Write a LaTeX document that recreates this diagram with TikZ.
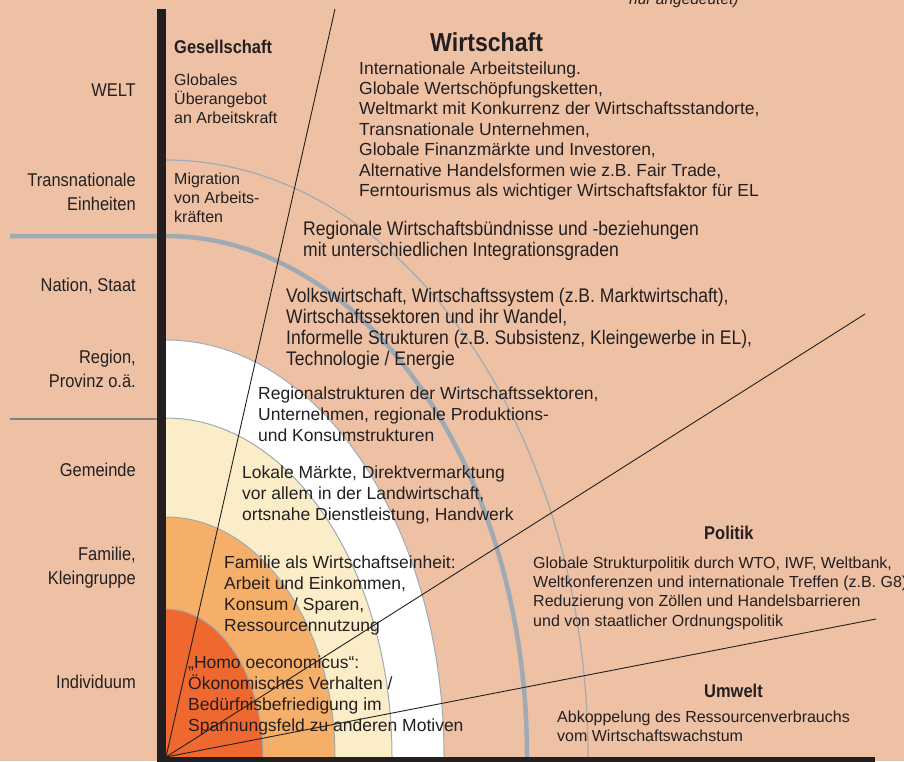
\documentclass[tikz,border=0pt]{standalone}
\usepackage{fontspec}
\newfontfamily\regfont{Liberation Sans}
\newfontfamily\narrowfont[FakeStretch=0.89]{Liberation Sans}
\usetikzlibrary{positioning}

\definecolor{bgpeach}{RGB}{238,193,164}
\definecolor{ringred}{RGB}{238,104,48}
\definecolor{ringorange}{RGB}{245,175,105}
\definecolor{ringyellow}{RGB}{251,237,200}
\definecolor{ringedge}{RGB}{160,170,178}
\definecolor{txtcol}{RGB}{35,31,32}

% multi-line nodes sit on the baseline of their last line
\tikzset{
  axisline/.style={line width=9pt,color=txtcol},
  ray/.style={line width=0.9pt,color=txtcol},
  thickring/.style={line width=4.5pt,color=ringedge},
  thinring/.style={line width=1.2pt,color=ringedge},
  ringborder/.style={line width=1pt,color=ringedge},
  levellbl/.style={font=\narrowfont\fontsize{18.5}{24}\selectfont,anchor=base east,
    align=right,inner sep=0pt,text=txtcol},
  headlbl/.style={font=\narrowfont\bfseries\fontsize{18.5}{22}\selectfont,anchor=base west,
    inner sep=0pt,text=txtcol},
  smalltxt/.style={font=\regfont\fontsize{16}{19}\selectfont,anchor=base west,
    align=left,inner sep=0pt,text=txtcol},
  bodytxt/.style={font=\regfont\fontsize{17.5}{20.7}\selectfont,anchor=base west,
    align=left,inner sep=0pt,text=txtcol},
  narrowtxt/.style={font=\narrowfont\fontsize{19.7}{20.7}\selectfont,anchor=base west,
    align=left,inner sep=0pt,text=txtcol},
}

\begin{document}
\begin{tikzpicture}[x=1pt,y=1pt]
\useasboundingbox (0,0) rectangle (904,-761);
\clip (0,0) rectangle (904,-761);
\fill[bgpeach] (0,0) rectangle (904,-761);

% rings round the corner
\coordinate (o) at (166,-757);
\draw[thinring] (o) ++(422,0) arc[start angle=0,end angle=90,x radius=422,y radius=597];
\draw[thickring] (o) ++(361,0) arc[start angle=0,end angle=90,x radius=361,y radius=521] -- (10,-236);
\foreach \rx/\ry/\col in {278/417/white,226/339/ringyellow,169/240/ringorange,97/148/ringred} {
  \fill[\col] (o) -- ++(\rx,0) arc[start angle=0,end angle=90,x radius=\rx,y radius=\ry] -- cycle;
  \draw[ringborder] (o) ++(\rx,0) arc[start angle=0,end angle=90,x radius=\rx,y radius=\ry];
}
\draw[line width=1.2pt,color=gray] (10,-419) -- (158,-419);

% sectors
\coordinate (gesend) at (335,-9);
\coordinate (polend) at (865,-314);
\coordinate (umwend) at (876,-619);
\foreach \e in {gesend,polend,umwend}
  \draw[ray] (o) -- (\e);

% axes
\draw[axisline] (161.5,-9) -- (161.5,-770);
\draw[axisline] (157,-761.5) -- (875,-761.5);

% levels
\node[levellbl] (welt) at (136,-96) {WELT};
\node[levellbl] (trans) at (136,-210) {Transnationale\\Einheiten};
\node[levellbl] (nation) at (136,-291) {Nation, Staat};
\node[levellbl] (region) at (136,-387) {Region,\\Provinz o.ä.};
\node[levellbl] (gemeinde) at (136,-476) {Gemeinde};
\node[levellbl] (familie) at (136,-584) {Familie,\\Kleingruppe};
\node[levellbl] (indiv) at (136,-688) {Individuum};

% Gesellschaft
\node[headlbl] (gesell) at (174,-53) {Gesellschaft};
\node[smalltxt] (globales) at (174,-123) {Globales\\Überangebot\\an Arbeitskraft};
\node[smalltxt] (migration) at (174,-222) {Migration\\von Arbeits-\\kräften};

% Wirtschaft
\node[font=\narrowfont\bfseries\fontsize{26}{30}\selectfont,anchor=base west,inner sep=0pt,text=txtcol]
  (wirt) at (430,-51) {Wirtschaft};
\node[bodytxt,font=\regfont\fontsize{17.5}{20.4}\selectfont] (wlist) at (359,-196.5)
  {Internationale Arbeitsteilung.\\
   Globale Wertschöpfungsketten,\\
   Weltmarkt mit Konkurrenz der Wirtschaftsstandorte,\\
   Transnationale Unternehmen,\\
   Globale Finanzmärkte und Investoren,\\
   Alternative Handelsformen wie z.B. Fair Trade,\\
   Ferntourismus als wichtiger Wirtschaftsfaktor für EL};
\node[narrowtxt] (wbund) at (303,-256)
  {Regionale Wirtschaftsbündnisse und -beziehungen\\
   mit unterschiedlichen Integrationsgraden};
\node[narrowtxt] (volksw) at (286,-365)
  {Volkswirtschaft, Wirtschaftssystem (z.B. Marktwirtschaft),\\
   Wirtschaftssektoren und ihr Wandel,\\
   Informelle Strukturen (z.B. Subsistenz, Kleingewerbe in EL),\\
   Technologie / Energie};
\node[bodytxt] (regstr) at (258,-441)
  {Regionalstrukturen der Wirtschaftssektoren,\\
   Unternehmen, regionale Produktions-\\
   und Konsumstrukturen};
\node[bodytxt] (lokal) at (242,-520)
  {Lokale Märkte, Direktvermarktung\\
   vor allem in der Landwirtschaft,\\
   ortsnahe Dienstleistung, Handwerk};
\node[bodytxt] (famwirt) at (224,-631)
  {Familie als Wirtschaftseinheit:\\
   Arbeit und Einkommen,\\
   Konsum / Sparen,\\
   Ressourcennutzung};
\node[bodytxt] (homo) at (188,-731)
  {„Homo oeconomicus“:\\
   Ökonomisches Verhalten /\\
   Bedürfnisbefriedigung im\\
   Spannungsfeld zu anderen Motiven};

% Politik, Umwelt
\node[headlbl] (politik) at (704,-539) {Politik};
\node[smalltxt,font=\regfont\fontsize{16}{19.3}\selectfont] (poltext) at (533,-626)
  {Globale Strukturpolitik durch WTO, IWF, Weltbank,\\
   Weltkonferenzen und internationale Treffen (z.B. G8),\\
   Reduzierung von Zöllen und Handelsbarrieren\\
   und von staatlicher Ordnungspolitik};
\node[headlbl] (umwelt) at (704,-697) {Umwelt};
\node[smalltxt] (umtext) at (557,-741)
  {Abkoppelung des Ressourcenverbrauchs\\
   vom Wirtschaftswachstum};

\node[font=\regfont\itshape\fontsize{15.5}{18}\selectfont,anchor=base west,inner sep=0pt,text=txtcol]
  (hint) at (629,-4) {nur angedeutet)};
\end{tikzpicture}
\end{document}
